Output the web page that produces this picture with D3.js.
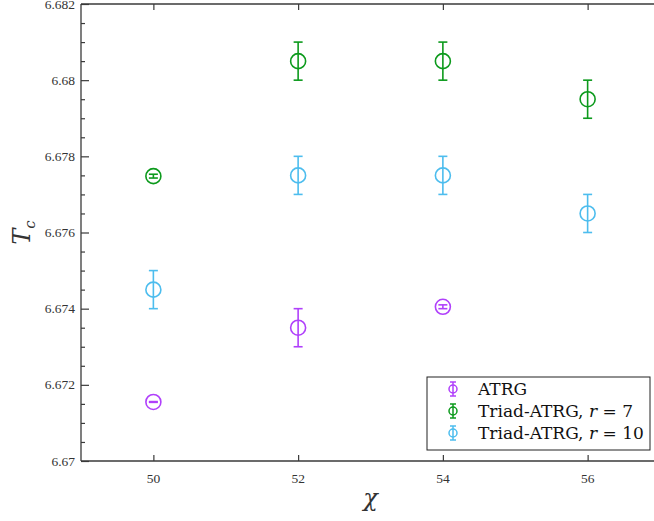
<!DOCTYPE html>
<html>
<head>
<meta charset="utf-8">
<script src="https://cdn.jsdelivr.net/npm/d3@7"></script>
<style>
  body { margin: 0; background: #fff; }
  svg { display: block; }
</style>
</head>
<body>
<script>
var width = 654;
var height = 521;
var margin = {left: 81, top: 4, right: -6, bottom: 60};

// data
var chi = [50, 52, 54, 56];
var atrgX = [50, 52, 54];
var atrgT = [6.67155, 6.6735, 6.67405];
var atrgErr = [0.00001, 0.0005, 0.00005];
var triad7T = [6.67748, 6.6805, 6.6805, 6.6795];
var triad7Err = [0.00005, 0.0005, 0.0005, 0.0005];
var triad10T = [6.6745, 6.6775, 6.6775, 6.6765];
var triad10Err = [0.0005, 0.0005, 0.0005, 0.0005];
var yTicks = [6.67, 6.672, 6.674, 6.676, 6.678, 6.68, 6.682];

var series = [
  {name: "ATRG", r: null, color: "#b040fb", x: atrgX, y: atrgT, e: atrgErr},
  {name: "Triad-ATRG, ", r: "7", color: "#0c9a1c", x: chi, y: triad7T, e: triad7Err},
  {name: "Triad-ATRG, ", r: "10", color: "#4dbdee", x: chi, y: triad10T, e: triad10Err}
];

var tickFont = "'Liberation Serif'";
var legendFont = "'DejaVu Serif'";

var xScale = d3.scaleLinear()
  .domain([49, 57])
  .range([margin.left, width - margin.right]);

var yScale = d3.scaleLinear()
  .domain([6.67, 6.682])
  .range([height - margin.bottom, margin.top]);

var svg = d3.select("body").append("svg")
  .attr("width", width)
  .attr("height", height);

var axisColor = "#3a3a3a";
var fmt = function(d) { return String(parseFloat(d.toFixed(4))); };

// minor y ticks
var minorY = d3.range(6.67, 6.6821, 0.0005).filter(function(v) {
  return yTicks.every(function(t) { return Math.abs(t - v) > 1e-7; });
});

// left axis
var gy = svg.append("g").attr("transform", "translate(" + margin.left + ",0)")
  .call(d3.axisRight(yScale).tickValues(yTicks).tickSize(8).tickFormat(""));
gy.append("g").call(d3.axisRight(yScale).tickValues(minorY).tickSize(4).tickFormat(""));

svg.selectAll(".ylab")
  .data(yTicks)
  .enter()
  .append("text")
  .attr("class", "ylab")
  .attr("x", margin.left - 6)
  .attr("y", function(d) { return yScale(d) + 4.5; })
  .attr("text-anchor", "end")
  .attr("font-family", tickFont)
  .attr("font-size", "13.5px")
  .attr("fill", "#333")
  .text(fmt);

// bottom and top axes
svg.append("g")
  .attr("transform", "translate(0," + yScale(6.67) + ")")
  .call(d3.axisTop(xScale).tickValues(chi).tickSize(6).tickFormat(""));
svg.append("g")
  .attr("transform", "translate(0," + yScale(6.682) + ")")
  .call(d3.axisBottom(xScale).tickValues(chi).tickSize(6).tickFormat(""));
svg.selectAll("g path").remove();
svg.selectAll("g line").attr("stroke", axisColor).attr("stroke-width", 1.2);

svg.selectAll(".xlab")
  .data(chi)
  .enter()
  .append("text")
  .attr("class", "xlab")
  .attr("x", function(d) { return xScale(d); })
  .attr("y", yScale(6.67) + 22)
  .attr("text-anchor", "middle")
  .attr("font-family", tickFont)
  .attr("font-size", "13.5px")
  .attr("fill", "#333")
  .text(function(d) { return d; });

// frame lines
svg.append("line")
  .attr("x1", margin.left).attr("x2", margin.left)
  .attr("y1", yScale(6.682)).attr("y2", yScale(6.67))
  .attr("stroke", axisColor).attr("stroke-width", 1.3);
svg.append("line")
  .attr("x1", margin.left).attr("x2", width)
  .attr("y1", yScale(6.67)).attr("y2", yScale(6.67))
  .attr("stroke", axisColor).attr("stroke-width", 1.3);
svg.append("line")
  .attr("x1", margin.left).attr("x2", width)
  .attr("y1", yScale(6.682)).attr("y2", yScale(6.682))
  .attr("stroke", axisColor).attr("stroke-width", 1.3);

// axis titles
svg.append("text")
  .attr("transform", "translate(30," + yScale(6.676) + ") rotate(-90)")
  .attr("text-anchor", "middle")
  .attr("font-family", "DejaVu Serif, serif")
  .attr("font-style", "italic")
  .attr("font-size", "24px")
  .attr("fill", "#333")
  .html('T<tspan font-size="15px" dy="5">c</tspan>');

svg.append("text")
  .attr("x", (margin.left + xScale(57)) / 2)
  .attr("y", 506)
  .attr("text-anchor", "middle")
  .attr("font-family", "DejaVu Serif, serif")
  .attr("font-style", "italic")
  .attr("font-size", "24px")
  .attr("fill", "#333")
  .text("χ");

// points with error bars
var capW = 4.5;
series.forEach(function(s) {
  var pts = s.x.map(function(x, i) { return {x: x, y: s.y[i], e: s.e[i]}; });
  var g = svg.append("g").attr("stroke", s.color).attr("stroke-width", 1.6).attr("fill", "none");

  g.selectAll(".bar").data(pts).enter().append("line")
    .attr("x1", function(d) { return xScale(d.x); })
    .attr("x2", function(d) { return xScale(d.x); })
    .attr("y1", function(d) { return yScale(d.y - d.e); })
    .attr("y2", function(d) { return yScale(d.y + d.e); });

  g.selectAll(".capt").data(pts).enter().append("line")
    .attr("x1", function(d) { return xScale(d.x) - capW; })
    .attr("x2", function(d) { return xScale(d.x) + capW; })
    .attr("y1", function(d) { return yScale(d.y + d.e); })
    .attr("y2", function(d) { return yScale(d.y + d.e); });

  g.selectAll(".capb").data(pts).enter().append("line")
    .attr("x1", function(d) { return xScale(d.x) - capW; })
    .attr("x2", function(d) { return xScale(d.x) + capW; })
    .attr("y1", function(d) { return yScale(d.y - d.e); })
    .attr("y2", function(d) { return yScale(d.y - d.e); });

  g.selectAll("circle").data(pts).enter().append("circle")
    .attr("cx", function(d) { return xScale(d.x); })
    .attr("cy", function(d) { return yScale(d.y); })
    .attr("r", 7.5);
});

// legend
var legend = svg.append("g").attr("transform", "translate(427,377)");
legend.append("rect")
  .attr("width", 223).attr("height", 73)
  .attr("fill", "#fff")
  .attr("stroke", "#222")
  .attr("stroke-width", 1);

series.forEach(function(s, i) {
  var cy = 12 + i * 22;
  var lg = legend.append("g").attr("stroke", s.color).attr("stroke-width", 1.5).attr("fill", "none");
  lg.append("line").attr("x1", 26).attr("x2", 26).attr("y1", cy - 7).attr("y2", cy + 7);
  lg.append("line").attr("x1", 23).attr("x2", 29).attr("y1", cy - 7).attr("y2", cy - 7);
  lg.append("line").attr("x1", 23).attr("x2", 29).attr("y1", cy + 7).attr("y2", cy + 7);
  lg.append("circle").attr("cx", 26).attr("cy", cy).attr("r", 4);

  var t = legend.append("text")
    .attr("x", 51)
    .attr("y", cy + 6)
    .attr("font-family", legendFont)
    .attr("font-size", "17px")
    .attr("fill", "#111");
  t.append("tspan").text(s.name);
  if (s.r) {
    t.append("tspan").attr("font-style", "italic").text("r");
    t.append("tspan").text(" = " + s.r);
  }
});
</script>
</body>
</html>
